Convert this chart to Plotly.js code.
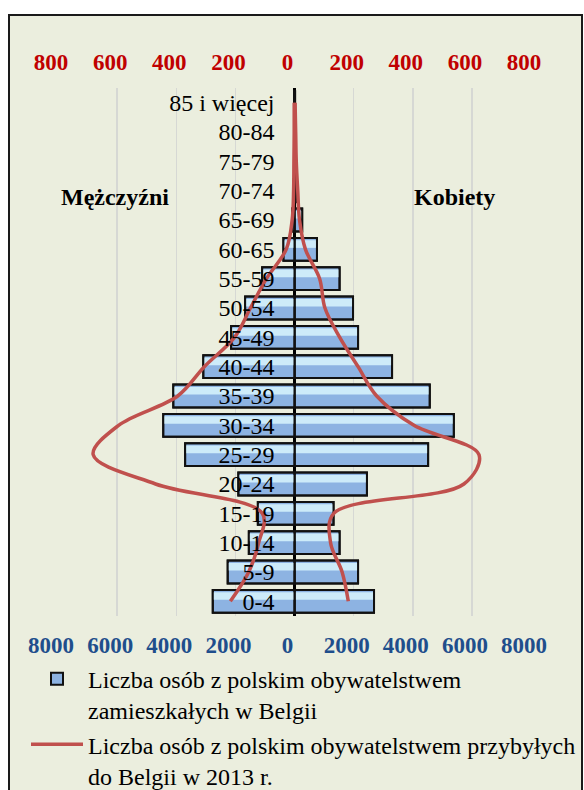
<!DOCTYPE html>
<html>
<head>
<meta charset="utf-8">
<script src="https://cdn.plot.ly/plotly-3.0.1.min.js"></script>
<style>
  html, body { margin: 0; padding: 0; background: #ffffff; overflow: hidden; }
  #frame { position: absolute; left: 8px; top: 14px; width: 571px; height: 830px; border: 2px solid #1a1a1a; }
</style>
</head>
<body>
<div id="frame"><div id="pyramid"></div></div>
<script>
'use strict'
/* Age groups, bottom to top */
var ageGroups = ['0-4','5-9','10-14','15-19','20-24','25-29','30-34','35-39','40-44','45-49','50-54','55-59','60-65','65-69','70-74','75-79','80-84','85 i więcej'];

/* Polish citizens living in Belgium (bottom axis) */
var residentsMen   = [2765, 2260, 1545, 1240, 1900, 3700, 4440, 4100, 3085, 2145, 1670, 1095, 375, 80, 25, 15, 10, 5];
var residentsWomen = [2690, 2150, 1525, 1320, 2450, 4520, 5390, 4575, 3300, 2150, 1980, 1525, 760, 260, 60, 40, 30, 20];

/* Polish citizens who arrived in Belgium in 2013 (top axis) */
var arrivedMen   = [217, 155, 121, 109, 470, 681, 595, 395, 305, 203, 149, 95, 28, 8, 3, 2, 1, 1];
var arrivedWomen = [182, 161, 122, 133, 573, 624, 404, 278, 215, 153, 103, 85, 37, 17, 11, 6, 4, 2];

/* Tick labels */
var bottomTicks = [-8000, -6000, -4000, -2000, 0, 2000, 4000, 6000, 8000];
var bottomText  = ['8000', '6000', '4000', '2000', '0', '2000', '4000', '6000', '8000'];
var topTicks = [-800, -600, -400, -200, 0, 200, 400, 600, 800];
var topText  = ['800', '600', '400', '200', '0', '200', '400', '600', '800'];

var barName = 'Liczba osób z polskim obywatelstwem<br>zamieszkałych w Belgii';
var lineName = 'Liczba osób z polskim obywatelstwem przybyłych<br>do Belgii w 2013 r.';

function negate(arr){
    return arr.map(function(v){ return -v; });
}

/* Each side is drawn as base bar + lighter top strip (bevel look) + outline */
function barLayers(values, showInLegend){
    var base = {
        type: 'bar', orientation: 'h',
        x: values, y: ageGroups,
        width: 0.78,
        name: barName,
        showlegend: showInLegend,
        legendgroup: 'bars',
        marker: {color: '#8DB3E2', line: {color: '#111111', width: 2}},
        hoverinfo: 'skip'
    };
    var shine = {
        type: 'bar', orientation: 'h',
        x: values, y: ageGroups,
        width: 0.26, offset: 0.05,
        showlegend: false,
        marker: {color: '#CDEBF9', line: {width: 0}},
        hoverinfo: 'skip'
    };
    var outline = {
        type: 'bar', orientation: 'h',
        x: values, y: ageGroups,
        width: 0.78,
        showlegend: false,
        marker: {color: 'rgba(0,0,0,0)', line: {color: '#111111', width: 2}},
        hoverinfo: 'skip'
    };
    return [base, shine, outline];
}

var traces = [];
traces = traces.concat(barLayers(residentsWomen, true));
traces = traces.concat(barLayers(negate(residentsMen), false));

var lineWomen = {
    type: 'scatter', mode: 'lines',
    x: arrivedWomen, y: ageGroups,
    xaxis: 'x2',
    name: lineName,
    legendgroup: 'line',
    line: {color: '#C0504D', width: 3.5, shape: 'spline', smoothing: 1},
    hoverinfo: 'skip'
};
var lineMen = {
    type: 'scatter', mode: 'lines',
    x: negate(arrivedMen), y: ageGroups,
    xaxis: 'x2',
    showlegend: false,
    legendgroup: 'line',
    line: {color: '#C0504D', width: 3.5, shape: 'spline', smoothing: 1},
    hoverinfo: 'skip'
};
traces.push(lineWomen, lineMen);

var serif = 'Liberation Serif, Times New Roman, serif';

var layout = {
    width: 571,
    height: 830,
    margin: {l: 48, r: 50, t: 72, b: 230},
    paper_bgcolor: '#EBEEDE',
    plot_bgcolor: 'rgba(0,0,0,0)',
    barmode: 'overlay',
    font: {family: serif, color: '#000000'},
    xaxis: {
        range: [-8000, 8000],
        tickvals: bottomTicks, ticktext: bottomText,
        tickfont: {family: serif, size: 23, color: '#1F4E8C', weight: 'bold'},
        ticks: '', ticklabelstandoff: 13, ticklabelshift: -7,
        showgrid: true, gridcolor: '#D6D8D4', gridwidth: 1.5,
        zeroline: true, zerolinecolor: '#000000', zerolinewidth: 2.5,
        showline: false, fixedrange: true
    },
    xaxis2: {
        overlaying: 'x', side: 'top',
        range: [-800, 800],
        tickvals: topTicks, ticktext: topText,
        tickfont: {family: serif, size: 23, color: '#C00000', weight: 'bold'},
        ticks: '', ticklabelstandoff: 12, ticklabelshift: -7,
        showgrid: false, zeroline: false, showline: false, fixedrange: true
    },
    yaxis: {
        type: 'category',
        categoryorder: 'array', categoryarray: ageGroups,
        range: [-0.5, 17.5],
        anchor: 'free', position: 0.5,
        tickfont: {family: serif, size: 24, color: '#000000'},
        ticks: '', ticklabelstandoff: 20,
        showgrid: false, zeroline: false, showline: false, fixedrange: true
    },
    showlegend: true,
    legend: {
        x: -0.053, xanchor: 'left',
        y: -0.077, yanchor: 'top',
        orientation: 'v',
        traceorder: 'normal',
        valign: 'top',
        itemwidth: 52,
        tracegroupgap: 3,
        bgcolor: 'rgba(0,0,0,0)',
        font: {family: serif, size: 24, color: '#000000'}
    },
    annotations: [
        {text: 'Mężczyźni', xref: 'paper', yref: 'paper', x: 0.1205, y: 0.7936,
         xanchor: 'center', yanchor: 'middle', showarrow: false,
         font: {family: serif, size: 24, color: '#000000', weight: 'bold'}},
        {text: 'Kobiety', xref: 'paper', yref: 'paper', x: 0.839, y: 0.7936,
         xanchor: 'center', yanchor: 'middle', showarrow: false,
         font: {family: serif, size: 24, color: '#000000', weight: 'bold'}}
    ]
};

Plotly.newPlot('pyramid', traces, layout, {displayModeBar: false, staticPlot: true});
</script>
</body>
</html>
